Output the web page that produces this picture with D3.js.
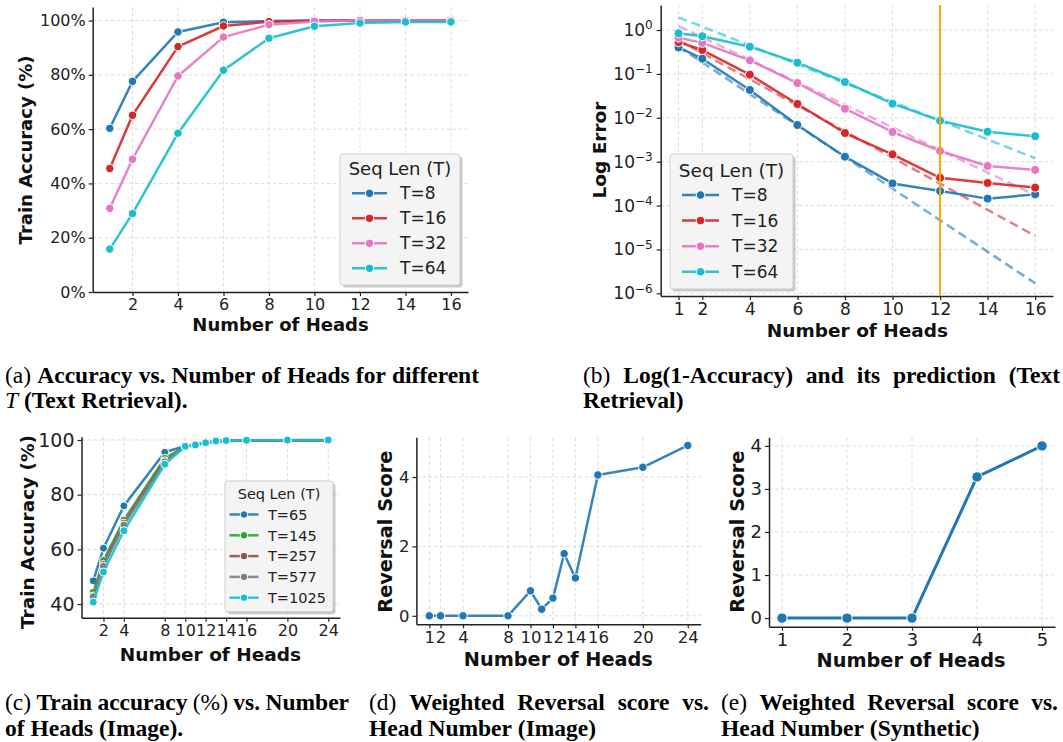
<!DOCTYPE html>
<html><head><meta charset="utf-8">
<script src="https://cdn.jsdelivr.net/npm/d3@7"></script>
<style>body{margin:0;background:#fff} text{white-space:pre}</style>
</head><body>
<svg id="fig" width="1063" height="742" xmlns="http://www.w3.org/2000/svg"></svg>
<script>
// ---------------- DATA ----------------
// (a) Text retrieval accuracy (%)
const headsA = [1, 2, 4, 6, 8, 10, 12, 14, 16];
const seqLabelsA = ["T=8", "T=16", "T=32", "T=64"];
const accA_T8  = [60.3, 77.6, 95.8, 99.4, 99.8, 100, 100, 100, 100];
const accA_T16 = [45.5, 65.1, 90.4, 98.0, 99.6, 99.9, 100, 100, 100];
const accA_T32 = [30.8, 48.9, 79.6, 93.9, 98.5, 99.7, 100, 100, 100];
const accA_T64 = [15.8, 28.9, 58.5, 81.7, 93.5, 97.9, 99.1, 99.5, 99.5];
const yTicksA = [0, 20, 40, 60, 80, 100];
const xTicksA = [2, 4, 6, 8, 10, 12, 14, 16];

// (b) Log(1-accuracy) and its prediction
const errB_T8  = [0.40, 0.222, 0.043, 0.00686, 0.0013, 3.2e-4, 2.15e-4, 1.44e-4, 1.8e-4];
const errB_T16 = [0.53, 0.35, 0.096, 0.0206, 0.0045, 0.00147, 4.3e-4, 3.27e-4, 2.57e-4];
const errB_T32 = [0.67, 0.51, 0.204, 0.062, 0.0161, 0.00475, 0.00175, 8.0e-4, 6.5e-4];
const errB_T64 = [0.84, 0.72, 0.417, 0.18, 0.0654, 0.021, 0.0086, 0.0048, 0.0038];
const predHeadsB = [1, 16];
const predB_T8  = [0.417, 1.7e-6];
const predB_T16 = [0.59, 2.04e-5];
const predB_T32 = [1.23, 1.74e-4];
const predB_T64 = [1.95, 1.2e-3];
const cutoffHeadB = 12;
const xTicksB = [1, 2, 4, 6, 8, 10, 12, 14, 16];
const yTicksB = [1e-6, 1e-5, 1e-4, 1e-3, 1e-2, 1e-1, 1];
const yTickExpB = ["−6", "−5", "−4", "−3", "−2", "−1", "0"];

// (c) Image train accuracy (%)
const headsC = [1, 2, 4, 8, 10, 11, 12, 13, 14, 16, 20, 24];
const seqLabelsC = ["T=65", "T=145", "T=257", "T=577", "T=1025"];
const accC_T65   = [48.5, 60.4, 75.9, 95.5, 97.8, 98.3, 99.1, 99.5, 99.7, 99.8, 99.9, 99.9];
const accC_T145  = [44.3, 55.9, 70.7, 93.3, 97.6, 98.2, 99.0, 99.5, 99.7, 99.8, 99.9, 99.9];
const accC_T257  = [43.0, 54.5, 69.6, 92.4, 97.5, 98.2, 99.0, 99.4, 99.6, 99.8, 99.9, 99.9];
const accC_T577  = [42.7, 53.8, 68.9, 92.0, 97.5, 98.1, 99.0, 99.4, 99.6, 99.8, 99.9, 99.9];
const accC_T1025 = [40.7, 51.7, 66.8, 91.1, 97.7, 98.2, 99.0, 99.6, 99.8, 99.9, 100, 100];
const xTicksC = [2, 4, 8, 10, 12, 14, 16, 20, 24];
const yTicksC = [40, 60, 80, 100];

// (d) Weighted reversal score (Image)
const headsD = [1, 2, 4, 8, 10, 11, 12, 13, 14, 16, 20, 24];
const scoreD = [0, 0, 0, 0, 0.72, 0.19, 0.51, 1.79, 1.09, 4.06, 4.28, 4.91];
const xTicksD = [1, 2, 4, 8, 10, 12, 14, 16, 20, 24];
const yTicksD = [0, 2, 4];

// (e) Weighted reversal score (Synthetic)
const headsE = [1, 2, 3, 4, 5];
const scoreE = [0, 0, 0, 3.28, 4.0];
const xTicksE = [1, 2, 3, 4, 5];
const yTicksE = [0, 1, 2, 3, 4];

// ---------------- STYLE ----------------
const C = {blue:"#1f77b4", red:"#d62728", pink:"#e377c2", cyan:"#17becf",
           green:"#2ca02c", brown:"#8c564b", gray:"#7f7f7f", orange:"#ffa500"};
const SANS = "'DejaVu Sans', sans-serif";
const SERIF = "'Liberation Serif', 'Times New Roman', serif";

const svg = d3.select("#fig");
svg.append("rect").attr("width", 1063).attr("height", 742).attr("fill", "#fff");

function makePanel(p) {
  const g = svg.append("g");
  const x = d3.scaleLinear().domain(p.xDomain).range([p.x0, p.x1]);
  const y = (p.log ? d3.scaleLog() : d3.scaleLinear()).domain(p.yDomain).range([p.y1, p.y0]);
  const grid = g.append("g").attr("stroke", "#d4d4d4").attr("stroke-width", 0.8)
      .attr("stroke-dasharray", "3.5,2.5");
  grid.selectAll("line.vx").data(p.xTicks).join("line")
    .attr("x1", d => x(d)).attr("x2", d => x(d)).attr("y1", p.y0).attr("y2", p.y1);
  grid.selectAll("line.hy").data(p.yTicks).join("line")
    .attr("y1", d => y(d)).attr("y2", d => y(d)).attr("x1", p.x0).attr("x2", p.x1);

  const ax = g.append("g").attr("transform", `translate(0,${p.y1})`)
    .call(d3.axisBottom(x).tickValues(p.xTicks).tickFormat(d3.format("d"))
      .tickSize(4).tickPadding(3).tickSizeOuter(0));
  const ay = g.append("g").attr("transform", `translate(${p.x0},0)`)
    .call(d3.axisLeft(y).tickValues(p.yTicks).tickFormat(p.yFmt || d3.format("d"))
      .tickSize(4).tickPadding(p.yPad || 3).tickSizeOuter(0));
  [ax, ay].forEach(a => {
    a.select(".domain").attr("stroke", "#222").attr("stroke-width", 1.5);
    a.selectAll(".tick line").attr("stroke", "#222").attr("stroke-width", 1.2);
    a.selectAll("text").attr("font-family", SANS).attr("fill", "#222");
  });
  ax.selectAll("text").attr("font-size", p.xFont);
  ay.selectAll("text").attr("font-size", p.yFont);

  g.append("text").attr("x", p.xLabelX).attr("y", p.xLabelY).attr("text-anchor", "middle")
    .attr("font-family", SANS).attr("font-weight", "bold").attr("font-size", p.labelFont)
    .attr("fill", "#111").text(p.xLabel);
  g.append("text").attr("transform", `translate(${p.yLabelX},${p.yLabelY}) rotate(-90)`)
    .attr("text-anchor", "middle").attr("dy", "0.35em")
    .attr("font-family", SANS).attr("font-weight", "bold").attr("font-size", p.labelFont)
    .attr("fill", "#111").text(p.yLabel);
  return {g, x, y, ay};
}

function drawSeries(P, xs, ys, color, opt) {
  const line = d3.line().x((d, i) => P.x(xs[i])).y(d => P.y(d));
  P.g.append("path").datum(ys).attr("d", line).attr("fill", "none")
    .attr("stroke", color).attr("stroke-width", opt.lw).attr("stroke-opacity", opt.alpha)
    .attr("stroke-linejoin", "round").attr("stroke-linecap", "round");
  P.g.append("g").selectAll("circle").data(ys).join("circle")
    .attr("cx", (d, i) => P.x(xs[i])).attr("cy", d => P.y(d)).attr("r", opt.r)
    .attr("fill", color).attr("stroke", "#fff").attr("stroke-width", opt.sw || 1);
}

function legend(L) {
  const g = svg.append("g");
  g.append("rect").attr("x", L.x0 + 2.5).attr("y", L.y0 + 2.5)
    .attr("width", L.x1 - L.x0).attr("height", L.y1 - L.y0).attr("rx", 3)
    .attr("fill", "#888").attr("fill-opacity", 0.45);
  g.append("rect").attr("x", L.x0).attr("y", L.y0)
    .attr("width", L.x1 - L.x0).attr("height", L.y1 - L.y0).attr("rx", 3)
    .attr("fill", "#f4f4f4").attr("stroke", "#cfcfcf").attr("stroke-width", 1);
  g.append("text").attr("x", (L.x0 + L.x1) / 2).attr("y", L.titleY).attr("text-anchor", "middle")
    .attr("font-family", SANS).attr("font-size", L.titleSize).attr("fill", "#222").text(L.title);
  L.labels.forEach((lab, i) => {
    const cy = L.firstY + i * L.step;
    g.append("line").attr("x1", L.lx0).attr("x2", L.lx1).attr("y1", cy).attr("y2", cy)
      .attr("stroke", L.colors[i]).attr("stroke-width", L.lw).attr("stroke-opacity", 0.9);
    g.append("circle").attr("cx", (L.lx0 + L.lx1) / 2).attr("cy", cy).attr("r", L.r)
      .attr("fill", L.colors[i]).attr("stroke", "#fff").attr("stroke-width", 1);
    g.append("text").attr("x", L.tx).attr("y", cy).attr("dy", "0.36em")
      .attr("font-family", SANS).attr("font-size", L.size).attr("fill", "#222").text(lab);
  });
}

// ---------------- PANEL (a) ----------------
const PA = makePanel({x0: 92.7, x1: 468, y0: 7, y1: 292, xDomain: [0.25, 16.75], yDomain: [0, 105],
  xTicks: xTicksA, yTicks: yTicksA, yFmt: d => d + "%", xFont: 16, yFont: 16, labelFont: 18,
  xLabel: "Number of Heads", xLabelX: 280.5, xLabelY: 331,
  yLabel: "Train Accuracy (%)", yLabelX: 26, yLabelY: 150});
const colorsA = [C.blue, C.red, C.pink, C.cyan];
[accA_T8, accA_T16, accA_T32, accA_T64].forEach((s, i) =>
  drawSeries(PA, headsA, s, colorsA[i], {lw: 2.5, alpha: 0.9, r: 4.2}));
legend({x0: 340, x1: 460, y0: 154, y1: 285, title: "Seq Len (T)", titleSize: 18, titleY: 175,
  labels: seqLabelsA, colors: colorsA, firstY: 193.3, step: 25, lx0: 352, lx1: 387,
  tx: 400, size: 17, r: 4.2, lw: 2.5});

// ---------------- PANEL (b) ----------------
const PB = makePanel({x0: 660.7, x1: 1053, y0: 5, y1: 296, xDomain: [0.25, 16.75],
  yDomain: [Math.pow(10, -6.06), Math.pow(10, 0.57)], log: true,
  xTicks: xTicksB, yTicks: yTicksB, yFmt: () => "10", yPad: 4, xFont: 17, yFont: 17, labelFont: 18.5,
  xLabel: "Number of Heads", xLabelX: 857.5, xLabelY: 337,
  yLabel: "Log Error", yLabelX: 600, yLabelY: 150});
PB.ay.selectAll(".tick text").each(function(d, i) {
  const t = d3.select(this);
  t.text(null).attr("dx", 0);
  t.append("tspan").text("10");
  t.append("tspan").attr("dy", "-0.55em").attr("font-size", 12).text(yTickExpB[i]);
});
const colorsB = [C.blue, C.red, C.pink, C.cyan];
[predB_T8, predB_T16, predB_T32, predB_T64].forEach((s, i) => {
  const line = d3.line().x((d, j) => PB.x(predHeadsB[j])).y(d => PB.y(d));
  PB.g.append("path").datum(s).attr("d", line).attr("fill", "none")
    .attr("stroke", colorsB[i]).attr("stroke-width", 2.5).attr("stroke-opacity", 0.6)
    .attr("stroke-dasharray", "9,5");
});
[errB_T8, errB_T16, errB_T32, errB_T64].forEach((s, i) =>
  drawSeries(PB, headsA, s, colorsB[i], {lw: 2.5, alpha: 0.9, r: 4.5}));
PB.g.append("line").attr("x1", PB.x(cutoffHeadB)).attr("x2", PB.x(cutoffHeadB))
  .attr("y1", 5).attr("y2", 296).attr("stroke", C.orange).attr("stroke-width", 2);
legend({x0: 670, x1: 793, y0: 154, y1: 289, title: "Seq Len (T)", titleSize: 18.5, titleY: 177,
  labels: seqLabelsA, colors: colorsB, firstY: 195, step: 25.6, lx0: 682, lx1: 719,
  tx: 732, size: 17, r: 4.3, lw: 2.5});

// ---------------- PANEL (c) ----------------
const PC = makePanel({x0: 81.5, x1: 340, y0: 436.7, y1: 617.7, xDomain: [-0.15, 25.15], yDomain: [35, 101.2],
  xTicks: xTicksC, yTicks: yTicksC, xFont: 16, yFont: 19, labelFont: 18.5,
  xLabel: "Number of Heads", xLabelX: 210.5, xLabelY: 661,
  yLabel: "Train Accuracy (%)", yLabelX: 28, yLabelY: 532});
const colorsC = [C.blue, C.green, C.brown, C.gray, C.cyan];
[accC_T65, accC_T145, accC_T257, accC_T577, accC_T1025].forEach((s, i) =>
  drawSeries(PC, headsC, s, colorsC[i], {lw: 2.5, alpha: 0.9, r: 4}));
legend({x0: 225, x1: 333, y0: 481, y1: 611.7, title: "Seq Len (T)", titleSize: 14.5, titleY: 499,
  labels: seqLabelsC, colors: colorsC, firstY: 514.5, step: 20.8, lx0: 229.5, lx1: 258.5,
  tx: 268, size: 14.5, r: 3.8, lw: 2.5});

// ---------------- PANEL (d) ----------------
const PD = makePanel({x0: 416.4, x1: 700.7, y0: 437.3, y1: 624.3, xDomain: [-0.15, 25.15], yDomain: [-0.245, 5.145],
  xTicks: xTicksD, yTicks: yTicksD, xFont: 16.5, yFont: 16.5, labelFont: 19.3,
  xLabel: "Number of Heads", xLabelX: 558.3, xLabelY: 666,
  yLabel: "Reversal Score", yLabelX: 385, yLabelY: 531.7});
drawSeries(PD, headsD, scoreD, C.blue, {lw: 2.5, alpha: 0.9, r: 4.2});

// ---------------- PANEL (e) ----------------
const PE = makePanel({x0: 769, x1: 1055, y0: 437.3, y1: 626.7, xDomain: [0.8, 5.2], yDomain: [-0.2, 4.2],
  xTicks: xTicksE, yTicks: yTicksE, xFont: 18, yFont: 18, labelFont: 19.3,
  xLabel: "Number of Heads", xLabelX: 911, xLabelY: 667,
  yLabel: "Reversal Score", yLabelX: 737.5, yLabelY: 531.7});
drawSeries(PE, headsE, scoreE, C.blue, {lw: 3, alpha: 1, r: 5.2});

// ---------------- CAPTIONS ----------------
const CAP = 23.5;
function words(x, yb, W, ws, justify) {
  const els = ws.map(([t, s]) => svg.append("text").attr("y", yb)
    .attr("font-family", SERIF).attr("font-size", CAP)
    .attr("font-weight", s === "b" ? "bold" : "normal")
    .attr("font-style", s === "i" ? "italic" : "normal").attr("fill", "#000").text(t));
  const wd = els.map(e => e.node().getComputedTextLength());
  const sum = d3.sum(wd);
  let gap = CAP * 0.25, scale = 1;
  if (justify) {
    gap = (W - sum) / (ws.length - 1);
    if (gap < 4) { gap = 4; scale = (W - gap * (ws.length - 1)) / sum; }
  }
  let cx = x;
  els.forEach((e, i) => {
    const w = wd[i] * scale;
    e.attr("x", cx);
    if (scale !== 1) e.attr("textLength", w).attr("lengthAdjust", "spacingAndGlyphs");
    cx += w + gap;
  });
}
const capA1 = [["(a)","n"],["Accuracy","b"],["vs.","b"],["Number","b"],["of","b"],["Heads","b"],["for","b"],["different","b"]];
const capA2 = [["T","i"],["(Text","b"],["Retrieval).","b"]];
const capB1 = [["(b)","n"],["Log(1-Accuracy)","b"],["and","b"],["its","b"],["prediction","b"],["(Text","b"]];
const capB2 = [["Retrieval)","b"]];
const capC1 = [["(c)","n"],["Train","b"],["accuracy","b"],["(%)","n"],["vs.","b"],["Number","b"]];
const capC2 = [["of","b"],["Heads","b"],["(Image).","b"]];
const capD1 = [["(d)","n"],["Weighted","b"],["Reversal","b"],["score","b"],["vs.","b"]];
const capD2 = [["Head","b"],["Number","b"],["(Image)","b"]];
const capE1 = [["(e)","n"],["Weighted","b"],["Reversal","b"],["score","b"],["vs.","b"]];
const capE2 = [["Head","b"],["Number","b"],["(Synthetic)","b"]];
words(5, 383, 474, capA1, true);
words(5, 407.5, 0, capA2, false);
words(583, 383, 477, capB1, true);
words(583, 407.5, 0, capB2, false);
words(5, 710, 344, capC1, true);
words(5, 735.5, 0, capC2, false);
words(369, 710, 340, capD1, true);
words(369, 735.5, 0, capD2, false);
words(721, 710, 337, capE1, true);
words(721, 735.5, 0, capE2, false);
</script>
</body></html>
